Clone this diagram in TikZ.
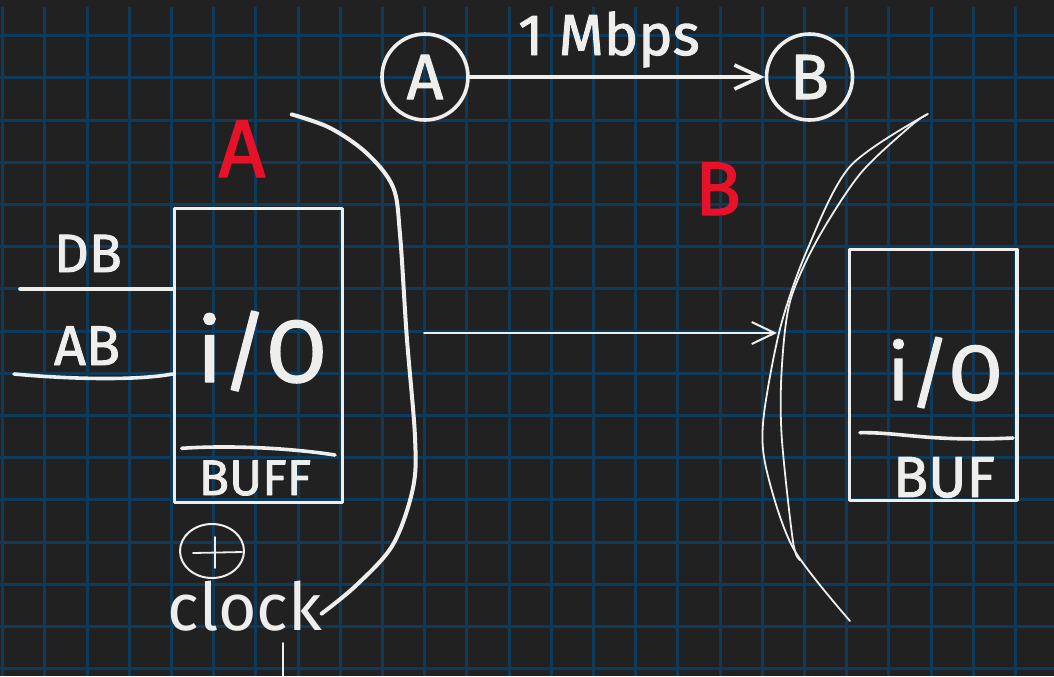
\documentclass[tikz,border=0pt]{standalone}
\usepackage{fontspec}
\setmainfont{Fira Sans}
\newfontfamily\chalkfont{Fira Sans}[FakeBold=1.6]
\usetikzlibrary{arrows.meta,calc,shapes.geometric}
\definecolor{board}{HTML}{212121}
\definecolor{gridline}{HTML}{0E3A5C}
\definecolor{chalk}{HTML}{EEEEEC}
\definecolor{marker}{HTML}{E5122A}
\newcommand{\penfont}[1]{\chalkfont\fontsize{#1}{#1}\selectfont}

\begin{document}
\begin{tikzpicture}[
    x=0.5pt, y=-0.5pt, line cap=round, line join=round,
    >={Straight Barb[length=13pt,width=12pt]},
    gridln/.style={draw=gridline, line width=1.5pt, line cap=butt},
    pen/.style={draw=chalk, line width=1.8pt},
    fine/.style={draw=chalk, line width=0.9pt},
    bracket/.style={draw=chalk, line width=2pt},
    station/.style={circle, pen, minimum size=43pt, inner sep=0pt, text=chalk, font=\penfont{32}},
    iobox/.style={pen, rectangle, anchor=north west, inner sep=0pt},
    lbl/.style={text=chalk, anchor=base, inner sep=0pt},
    redlbl/.style={text=marker, anchor=base, inner sep=0pt},
    arr/.style={->, pen},
    thinarr/.style={-{Straight Barb[length=11.5pt,width=11pt]}, draw=chalk, line width=1pt},
  ]
  \useasboundingbox (0,0) rectangle (1054,676);
  \fill[board] (0,0) rectangle (1054,676);

  % ---- squared board
  \foreach \k in {0,...,24}
    \draw[gridln] ({2.7+42.2*\k},7) -- ({2.7+42.2*\k},676);
  \foreach \k in {0,...,15}
    \draw[gridln] (0,{35.7+42.2*\k}) -- (1054,{35.7+42.2*\k});

  % ---- the link between the two stations
  \node[station] (A) at (425,77) {A};
  \node[station] (B) at (809.5,77) {B};
  \draw[arr] (A) -- (B);
  \node[lbl, font=\penfont{29}] (rate) at (609,55) {1 Mbps};

  % ---- side A
  \node[redlbl, font=\penfont{41}] (sideA) at (242,177) {A};
  \node[iobox, minimum width=84pt, minimum height=147pt] (ioA) at (172.5,206.5) {};
  \node[lbl, font=\penfont{44}] (ioAtxt) at (262,382) {i/O};
  \draw[pen] (181.7,448.3) .. controls (230,445) and (290,448) .. (335,455);
  \node[lbl, font=\penfont{25}] (buffA) at (255,495) {BUFF};

  \coordinate (dbin) at (20,289);
  \coordinate (abin) at (14,374);
  \draw[pen] (dbin) -- (dbin -| ioA.west);
  \draw[pen] (abin) .. controls (80,380) and (140,380) .. (abin -| ioA.west);
  \node[lbl, font=\penfont{27}] (dblbl) at (88,272) {DB};
  \node[lbl, font=\penfont{28}] (ablbl) at (87,365) {AB};

  \draw[bracket] plot[smooth, tension=0.55] coordinates {(291.7,114.4) (330,127.9) (366.7,153.2)
    (393,187) (400,234.4) (406.7,335.8) (415,437.2) (413,487.9) (393,544.5) (356.7,584.9) (321.7,613.6)};

  % clock
  \node[ellipse, draw=chalk, line width=1pt, minimum width=32pt, minimum height=27pt, inner sep=0pt] (clk) at (212,551) {};
  \draw[fine] (193,553) -- (242,552);
  \draw[fine] (215,537) -- (215,568);
  \node[lbl, text=chalk, font=\fontsize{33}{33}\selectfont] (clklbl) at (245,630) {clock};
  \coordinate (clkout) at (283,643);
  \draw[fine] (clkout) -- (283,676);

  % ---- transfer towards side B
  \coordinate (linkA) at (424,333);
  \coordinate (linkB) at (777,333);
  \draw[thinarr] (linkA) -- (linkB);

  % ---- side B
  \node[redlbl, font=\penfont{38}] (sideB) at (718,215) {B};
  \draw[fine] plot[smooth] coordinates {(927.7,114) (850,166.4) (806.7,251) (780,328.8)
    (763.3,420) (766.7,470.7) (793.3,548.4) (850,621)};
  \draw[fine] plot[smooth] coordinates {(927.7,114) (910,126.5) (860,174) (816.7,240.7)
    (790,301.6) (781.7,369.2) (781.7,436.8) (793,541.6) (800,560)};

  \node[iobox, minimum width=83.75pt, minimum height=125.5pt] (ioB) at (847.5,247.5) {};
  \node[lbl, font=\penfont{39}] (ioBtxt) at (945,400) {i/O};
  \draw[pen] (860,432.7) .. controls (900,432) and (930,442) .. (1013,438);
  \node[lbl, font=\penfont{29}] (bufB) at (944,497) {BUF};
\end{tikzpicture}
\end{document}
